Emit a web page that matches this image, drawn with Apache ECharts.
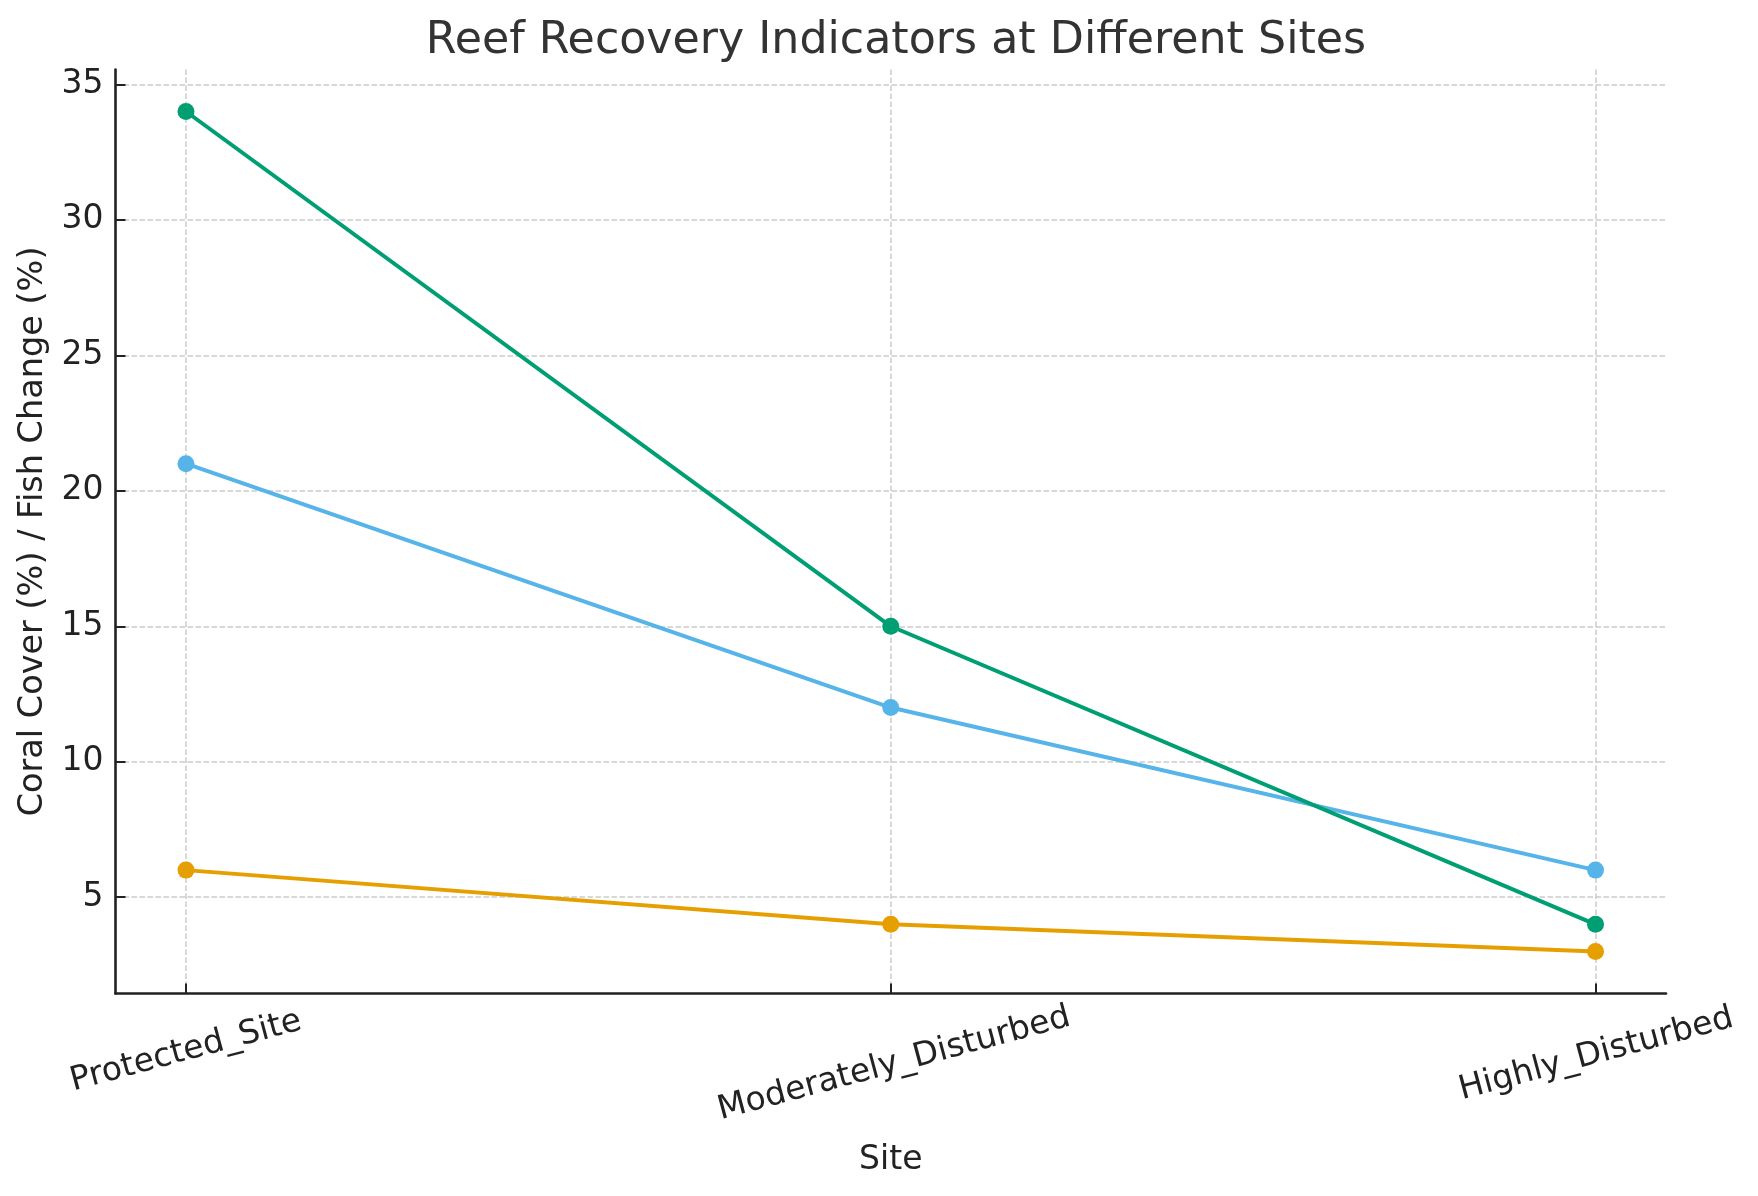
<!DOCTYPE html>
<html>
<head>
<meta charset="utf-8">
<title>Reef Recovery Indicators</title>
<script src="https://cdn.jsdelivr.net/npm/echarts@6/dist/echarts.min.js"></script>
<style>
	html, body { margin: 0; padding: 0; background: #fff; }
	#main { width: 1758px; height: 1196px; }
</style>
</head>
<body>
<div id="main"></div>
<script>
// 数据
const sites = ['Protected_Site', 'Moderately_Disturbed', 'Highly_Disturbed']
const coralCover = [34, 15, 4]
const fishChange = [21, 12, 6]
const recruitment = [6, 4, 3]
const yTicks = [5, 10, 15, 20, 25, 30, 35]
const xTicks = [0, 1, 2]

const font = 'DejaVu Sans'
const toPairs = (arr) => arr.map((v, i) => [i, v])

// 旋转后标签的额外下移（仿 matplotlib 的对齐方式）
const labelPad = { Moderately_Disturbed: 26, Highly_Disturbed: 6 }

let myChart = echarts.init(document.getElementById('main'), null, { renderer: 'canvas' })

const gridLine = { show: true, lineStyle: { color: '#cccccc', width: 1.5, type: [5.5, 2.5] } }

let option = {
	animation: false,
	backgroundColor: '#fff',
	title: {
		text: 'Reef Recovery Indicators at Different Sites',
		left: 891,
		textAlign: 'center',
		top: 14,
		textStyle: { fontFamily: font, fontSize: 44.3, fontWeight: 'normal', color: '#333' }
	},
	grid: { left: 115.5, right: 92, top: 69.5, bottom: 202.6 },
	xAxis: {
		type: 'value',
		min: -0.1,
		max: 2.1,
		name: 'Site',
		nameLocation: 'middle',
		nameGap: 151,
		nameTextStyle: { fontFamily: font, fontSize: 33, color: '#222', verticalAlign: 'top' },
		axisLine: { show: true, onZero: false, lineStyle: { color: '#222', width: 2.6 } },
		axisTick: { show: true, inside: true, length: 10, customValues: xTicks, lineStyle: { color: '#222', width: 2 } },
		axisLabel: {
			customValues: xTicks,
			rotate: 15,
			margin: 58,
			align: 'center',
			verticalAlign: 'middle',
			fontFamily: font,
			fontSize: 33,
			color: '#222',
			formatter: (v) => {
				const name = sites[Math.round(v)]
				return labelPad[name] ? '{p' + labelPad[name] + '|' + name + '}' : name
			},
			rich: {
				p26: { padding: [26, 0, 0, 0], fontFamily: font, fontSize: 33, color: '#222' },
				p6: { padding: [6, 0, 0, 0], fontFamily: font, fontSize: 33, color: '#222' }
			}
		},
		splitLine: gridLine
	},
	yAxis: {
		type: 'value',
		min: 1.45,
		max: 35.55,
		name: 'Coral Cover (%) / Fish Change (%)',
		nameLocation: 'middle',
		nameGap: 63,
		nameTextStyle: { fontFamily: font, fontSize: 33.5, color: '#222' },
		axisLine: { show: true, onZero: false, lineStyle: { color: '#222', width: 2.6 } },
		axisTick: { show: true, inside: true, length: 10, customValues: yTicks, lineStyle: { color: '#222', width: 2 } },
		axisLabel: { customValues: yTicks, margin: 12, fontFamily: font, fontSize: 33, color: '#222' },
		splitLine: gridLine
	},
	series: [
		{
			name: 'Recruitment',
			type: 'line',
			data: toPairs(recruitment),
			symbol: 'circle',
			symbolSize: 17,
			lineStyle: { width: 4, color: '#E69F00' },
			itemStyle: { color: '#E69F00' }
		},
		{
			name: 'Fish Change',
			type: 'line',
			data: toPairs(fishChange),
			symbol: 'circle',
			symbolSize: 17,
			lineStyle: { width: 4, color: '#56B4E9' },
			itemStyle: { color: '#56B4E9' }
		},
		{
			name: 'Coral Cover',
			type: 'line',
			data: toPairs(coralCover),
			symbol: 'circle',
			symbolSize: 17,
			lineStyle: { width: 4, color: '#009E73' },
			itemStyle: { color: '#009E73' }
		}
	]
}

myChart.setOption(option)
</script>
</body>
</html>
